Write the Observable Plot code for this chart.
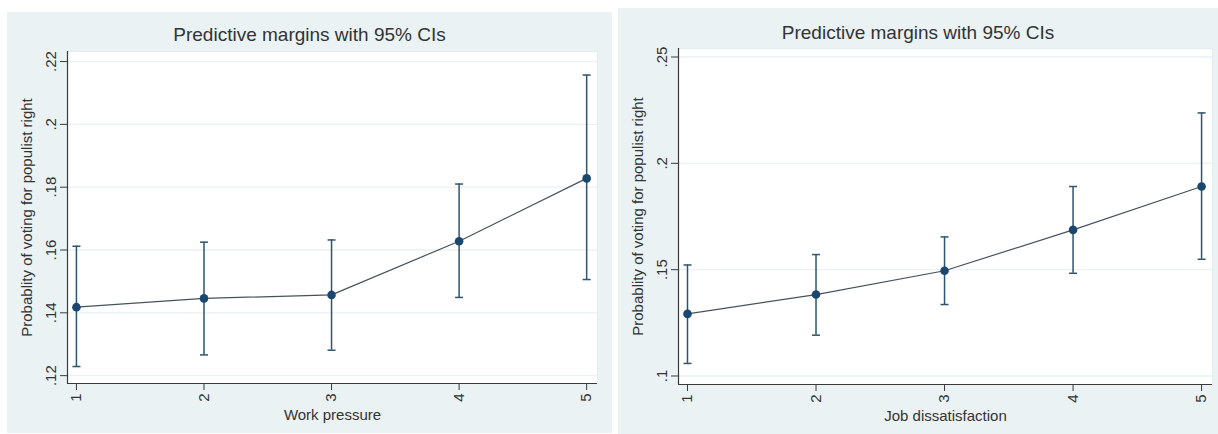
<!DOCTYPE html>
<html><head><meta charset="utf-8">
<script src="https://cdn.jsdelivr.net/npm/d3@7"></script>
<script src="https://cdn.jsdelivr.net/npm/@observablehq/plot@0.6"></script>
<style>
body{margin:0;background:#fff;width:1218px;height:434px;overflow:hidden;font-family:"Liberation Sans",Arial,sans-serif;}
.panel{position:absolute;background:#eaf2f3;}
.title{position:absolute;left:0;right:0;text-align:center;font-size:19px;line-height:22px;color:#333;white-space:nowrap;}
.chart{position:absolute;left:0;}
</style></head><body>
<div id="p1" class="panel" style="left:7px;top:12px;width:605px;height:421px"></div>
<div id="p2" class="panel" style="left:618px;top:8px;width:600px;height:426px"></div>
<script>
// ---- data ----
const levels = [1, 2, 3, 4, 5];

const workMargin = [0.1418, 0.1446, 0.1457, 0.1628, 0.1828];
const workLo     = [0.1229, 0.1266, 0.1281, 0.1449, 0.1506];
const workHi     = [0.1612, 0.1625, 0.1632, 0.1810, 0.2157];

const jobMargin = [0.1292, 0.1383, 0.1495, 0.1687, 0.1891];
const jobLo     = [0.1059, 0.1192, 0.1336, 0.1483, 0.1549];
const jobHi     = [0.1522, 0.1571, 0.1654, 0.1891, 0.2237];

const workYTicks = [0.12, 0.14, 0.16, 0.18, 0.2, 0.22];
const workYTickLabels = [".12", ".14", ".16", ".18", ".2", ".22"];
const jobYTicks = [0.1, 0.15, 0.2, 0.25];
const jobYTickLabels = [".1", ".15", ".2", ".25"];
const xTickLabels = ["1", "2", "3", "4", "5"];

const titleText = "Predictive margins with 95% CIs";
const yLabelText = "Probablity of voting for populist right";
const workXLabel = "Work pressure";
const jobXLabel = "Job dissatisfaction";

// ---- drawing ----
const capSymbol = {
  draw(context, size) {
    const r = Math.sqrt(size / Math.PI);
    context.moveTo(-r, 0);
    context.lineTo(r, 0);
  }
};

function panel(el, cfg) {
  const t = document.createElement("div");
  t.className = "title";
  t.style.top = cfg.titleTop + "px";
  t.textContent = titleText;
  el.appendChild(t);

  const rows = levels.map((l, i) => ({level: l, m: cfg.m[i], lo: cfg.lo[i], hi: cfg.hi[i]}));
  const ink = "#1a476f";
  const plot = Plot.plot({
    width: cfg.width,
    height: cfg.height,
    marginLeft: 60,
    marginRight: cfg.marginRight,
    marginTop: cfg.marginTop,
    marginBottom: 50,
    style: {fontFamily: "'Liberation Sans', Arial, sans-serif", background: "transparent", color: "#333", overflow: "visible"},
    x: {domain: [0.93, 5.085]},
    y: {domain: cfg.yDomain},
    marks: [
      Plot.frame({fill: "white", stroke: "#e3ecef"}),
      Plot.gridY(cfg.yTicks, {stroke: "#eaf2f3", strokeOpacity: 1, strokeWidth: 1.3}),
      Plot.ruleX([cfg.xStart], {stroke: "#3a3a3a", strokeWidth: 1.2}),
      Plot.ruleY([cfg.yDomain[0]], {stroke: "#3a3a3a", strokeWidth: 1.2}),
      Plot.axisY(cfg.yTicks, {
        tickSize: 7, tickPadding: 5, tickRotate: -90, fontSize: 15,
        tickFormat: d => cfg.yTickLabels[cfg.yTicks.indexOf(d)],
        label: null, stroke: "#3a3a3a"
      }),
      Plot.axisX(levels, {
        tickSize: 7, tickPadding: 3, tickRotate: -90, fontSize: 15,
        tickFormat: d => xTickLabels[levels.indexOf(d)],
        label: null, stroke: "#3a3a3a"
      }),
      Plot.text([yLabelText], {frameAnchor: "left", dx: -36, rotate: -90, fontSize: 15, textAnchor: "middle", lineAnchor: "bottom", text: d => d, fill: "#333"}),
      Plot.text([cfg.xLabel], {frameAnchor: "bottom", dy: 36, fontSize: 15, textAnchor: "middle", lineAnchor: "bottom", text: d => d, fill: "#333"}),
      Plot.ruleX(rows, {x: "level", y1: "lo", y2: "hi", stroke: "#2e5470", strokeWidth: 1.5}),
      Plot.dot(rows, {x: "level", y: "lo", symbol: capSymbol, r: 4, stroke: "#2e5470", strokeWidth: 1.5}),
      Plot.dot(rows, {x: "level", y: "hi", symbol: capSymbol, r: 4, stroke: "#2e5470", strokeWidth: 1.5}),
      Plot.line(rows, {x: "level", y: "m", stroke: "#46525b", strokeWidth: 1.2}),
      Plot.dot(rows, {x: "level", y: "m", r: 4.3, fill: ink, stroke: "none"})
    ]
  });
  plot.classList.add("chart");
  plot.style.top = cfg.svgTop + "px";
  el.appendChild(plot);
}

panel(document.getElementById("p1"), {
  titleTop: 12, svgTop: 28, width: 605, height: 393, marginTop: 11, marginRight: 15,
  m: workMargin, lo: workLo, hi: workHi,
  yDomain: [0.1175, 0.2232], yTicks: workYTicks, yTickLabels: workYTickLabels,
  xStart: 0.93, xLabel: workXLabel
});
panel(document.getElementById("p2"), {
  titleTop: 14, svgTop: 30, width: 600, height: 396, marginTop: 10, marginRight: 6,
  m: jobMargin, lo: jobLo, hi: jobHi,
  yDomain: [0.096, 0.254], yTicks: jobYTicks, yTickLabels: jobYTickLabels,
  xStart: 0.93, xLabel: jobXLabel
});
</script>
</body></html>
